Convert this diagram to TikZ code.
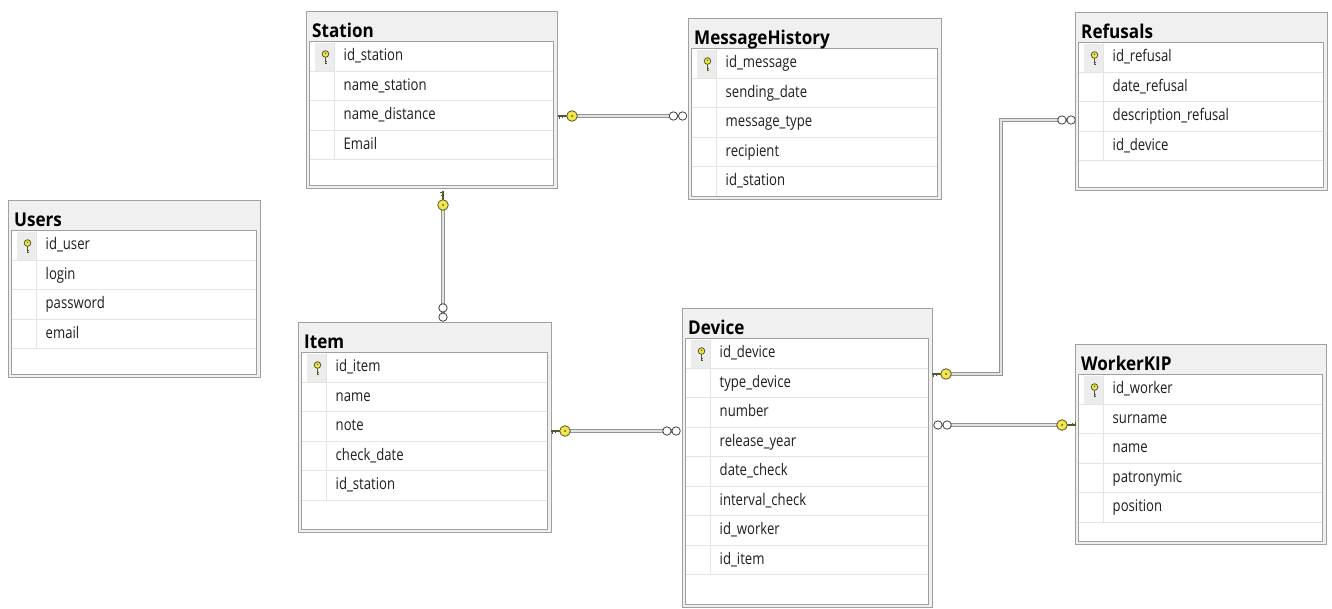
\documentclass[tikz,border=0pt]{standalone}
\usepackage{fontspec}
\setmainfont{Open Sans}[FakeStretch=0.82]
\newfontfamily\titlefont{Open Sans}[FakeStretch=0.9]

\definecolor{frame}{HTML}{A0A0A0}
\definecolor{titlebg}{HTML}{F0F0F0}
\definecolor{rowline}{HTML}{E4E4E4}
\definecolor{keybg}{HTML}{ECECEC}
\definecolor{keyfill}{HTML}{F2E64A}
\definecolor{keyedge}{HTML}{55552E}
\definecolor{ringedge}{HTML}{404040}
\definecolor{relgray}{HTML}{939393}
\definecolor{relfill}{HTML}{E2E2E2}
\definecolor{fieldtext}{HTML}{1E1E1E}

\tikzset{
  tblouter/.style={draw=frame, fill=titlebg, line width=1.2pt, inner sep=0pt, rectangle},
  innerbox/.style={draw=frame, line width=0.8pt},
  rowsep/.style={draw=rowline, line width=0.7pt},
  titletext/.style={font=\titlefont\fontsize{19}{22}\selectfont\bfseries, text=black, inner sep=0pt},
  fieldtxt/.style={font=\fontsize{16}{19}\selectfont, text=fieldtext, inner sep=0pt},
  rel/.style={draw=relgray, double=relfill, line width=1pt, double distance=1.9pt},
  manyring/.style={draw=ringedge, fill=white, line width=0.8pt},
}

% small primary-key glyph inside a table
\newcommand\pkey[1]{%
  \begin{scope}[shift={#1}]
    \draw[keyedge, line width=0.9pt] (0,0.5) -- (0,7) (0,4.5) -- (1.8,4.5) (0,6.5) -- (1.8,6.5);
    \draw[keyedge, fill=keyfill, line width=0.8pt] (0,-2.5) circle (3.3pt);
    \fill[keyedge] (0,-3.2) circle (0.8pt);
  \end{scope}}

% key end of a relationship line (ring at #1, bit pointing along the rotated -x axis)
\newcommand\keyend[2]{%
  \begin{scope}[shift={#1}, rotate=#2]
    \draw[keyedge, line width=1.3pt] (-5,0) -- (-14,0);
    \draw[keyedge, line width=1pt] (-13,0) -- (-13,2.8) (-10,0) -- (-10,2.2);
    \draw[keyedge, fill=keyfill, line width=0.8pt] (0,0) circle (5.3pt);
    \fill[keyedge] (0,0) circle (1pt);
  \end{scope}}

% "many" end of a relationship line
\newcommand\manyend[2]{%
  \begin{scope}[shift={#1}, rotate=#2]
    \draw[manyring] (-4.6,0) circle (4.2pt) (4.6,0) circle (4.2pt);
  \end{scope}}

% table: name, title, left, top, width, height, fields
\newcommand\erdtable[7]{%
  \node[tblouter, minimum width=#5pt, minimum height=#6pt, anchor=north west] (#1) at (#3,#4) {};
  \pgfmathsetmacro\ixl{#3+3.5}%
  \pgfmathsetmacro\ixr{#3+#5-3.5}%
  \pgfmathsetmacro\iyt{#4+30.5}%
  \pgfmathsetmacro\iyb{#4+#6-3}%
  \pgfmathsetmacro\kx{\ixl+25}%
  \fill[white] (\ixl,\iyt) rectangle (\ixr,\iyb);
  \fill[keybg] (\ixl+5,\iyt+1) rectangle (\kx,\iyt+29.5);
  \foreach \f [count=\i] in {#7} {
    \pgfmathsetmacro\rt{\iyt+(\i-1)*29.5}
    \pgfmathsetmacro\rb{\rt+29.5}
    \draw[rowsep] (\ixl,\rb) -- (\ixr,\rb);
    \draw[rowsep] (\kx,\rt) -- (\kx,\rb);
    \node[fieldtxt, anchor=mid west] at (\ixl+34,{(\rt+\rb)/2+2}) {\f};
  }
  \pkey{(\ixl+16,\iyt+15)}
  \draw[innerbox] (\ixl,\iyt) rectangle (\ixr,\iyb);
  \node[titletext, anchor=base west] at (#3+6,#4+26) {#2};
}

\begin{document}
\begin{tikzpicture}[x=1pt, y=-1pt]
  \useasboundingbox (0,0) rectangle (1332,608);
  \fill[white] (0,0) rectangle (1332,608);

  % relationship lines (under the tables and end symbols)
  \coordinate (r1k) at (572,116);  \coordinate (r1m) at (678,116);
  \coordinate (r2k) at (443,205);  \coordinate (r2m) at (443,312.5);
  \coordinate (r3k) at (565,431);  \coordinate (r3m) at (671.5,431);
  \coordinate (r4k) at (946,374);  \coordinate (r4e) at (1001,120);  \coordinate (r4m) at (1066.5,120);
  \coordinate (r5m) at (942.5,425); \coordinate (r5k) at (1062,425);

  \draw[rel] (r1k) -- (r1m);
  \draw[rel] (r2k) -- (r2m);
  \draw[rel] (r3k) -- (r3m);
  \draw[rel] (r4k) -| (r4e) -- (r4m);
  \draw[rel] (r5m) -- (r5k);

  % tables
  \erdtable{users}{Users}{8}{200}{252}{177}{id\_user,login,password,email}
  \erdtable{station}{Station}{306}{11}{251}{177}{id\_station,name\_station,name\_distance,Email}
  \erdtable{msg}{MessageHistory}{688}{18}{253}{181}{id\_message,sending\_date,message\_type,recipient,id\_station}
  \erdtable{refusals}{Refusals}{1075}{12}{252}{178}{id\_refusal,date\_refusal,description\_refusal,id\_device}
  \erdtable{item}{Item}{298}{322}{253}{210}{id\_item,name,note,check\_date,id\_station}
  \erdtable{device}{Device}{682}{308}{250}{299}{id\_device,type\_device,number,release\_year,date\_check,interval\_check,id\_worker,id\_item}
  \erdtable{worker}{WorkerKIP}{1075}{344}{251}{200}{id\_worker,surname,name,patronymic,position}

  % relationship end symbols
  \keyend{(r1k)}{0}     \manyend{(r1m)}{0}
  \keyend{(r2k)}{-90}   \manyend{(r2m)}{90}
  \keyend{(r3k)}{0}     \manyend{(r3m)}{0}
  \keyend{(r4k)}{0}     \manyend{(r4m)}{0}
  \manyend{(r5m)}{0}    \keyend{(r5k)}{180}
\end{tikzpicture}
\end{document}
